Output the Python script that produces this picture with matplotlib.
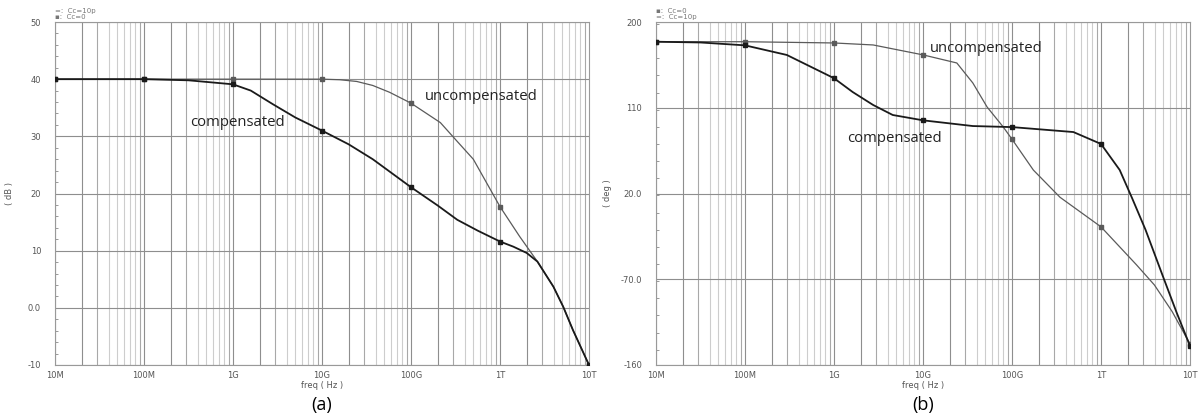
import numpy as np
import matplotlib.pyplot as plt
from matplotlib.ticker import FixedLocator, MultipleLocator, NullLocator

# log10(freq) / value pairs
mag_comp_logf = [7.0, 8.0, 8.5, 9.0, 9.2, 9.45, 9.7, 10.0, 10.3, 10.57, 11.0, 11.3, 11.52, 11.75, 12.0,
                 12.15, 12.3, 12.42, 12.6, 12.71, 12.82, 13.0]
mag_comp_db = [40.0, 40.0, 39.8, 39.1, 38.0, 35.6, 33.3, 31.0, 28.6, 26.0, 21.1, 17.9, 15.4, 13.5, 11.6,
               10.7, 9.6, 8.1, 3.7, 0.2, -3.9, -10.0]

mag_unc_logf = [7.0, 8.0, 9.0, 10.0, 10.2, 10.39, 10.57, 10.76, 11.0, 11.33, 11.52, 11.7, 12.0, 12.22,
                12.42, 12.6, 12.71, 12.82, 13.0]
mag_unc_db = [40.0, 40.0, 40.0, 40.0, 39.9, 39.6, 38.9, 37.7, 35.8, 32.4, 29.1, 26.0, 17.7, 12.5,
              8.1, 3.7, 0.2, -3.9, -10.0]

ph_comp_logf = [7.0, 7.5, 8.0, 8.47, 9.0, 9.21, 9.44, 9.66, 10.0, 10.56, 11.0, 11.69, 12.0, 12.21,
                12.35, 12.5, 12.7, 12.85, 13.0]
ph_comp_deg = [179.3, 178.5, 175.5, 165.4, 141.0, 126.5, 112.9, 102.4, 96.8, 90.8, 89.7, 84.5, 72.0, 44.7,
               15.0, -18.0, -68.0, -105.0, -140.0]

ph_unc_logf = [7.0, 8.0, 9.0, 9.44, 10.0, 10.38, 10.56, 10.72, 10.9, 11.0, 11.24, 11.54, 12.0, 12.21,
               12.4, 12.6, 12.8, 13.0]
ph_unc_deg = [179.3, 179.3, 178.0, 175.9, 165.5, 157.0, 136.0, 110.8, 90.0, 77.0, 44.6, 16.0, -15.0, -36.0,
              -55.0, -76.0, -104.0, -138.0]

xtick_labels = ['10M', '100M', '1G', '10G', '100G', '1T', '10T']
mag_ticks = [-10, 0, 10, 20, 30, 40, 50]
mag_tick_labels = ['-10', '0.0', '10', '20', '30', '40', '50']
ph_ticks = [-160, -70, 20, 110, 200]
ph_tick_labels = ['-160', '-70.0', '20.0', '110', '200']

W, H = 1204, 417
fig = plt.figure(figsize=(W / 100, H / 100), dpi=100)

text_font = ['Open Sans', 'DejaVu Sans']
grid_dark = '#8e8e8e'
grid_mid = '#a8a8a8'
grid_light = '#cdcdcd'


def decade_marks(logf):
    return [i for i, f in enumerate(logf) if float(f).is_integer()]


def setup_axes(ax, yticks, ylabels, ylim, yminor, ylabel, ylabel_x):
    freqs = 10.0 ** np.arange(7, 14)
    ax.set_xscale('log')
    ax.set_xlim(1e7, 1e13)
    ax.set_ylim(*ylim)

    # vertical grid on every 1..9 x decade
    for dec in range(7, 13):
        for k in range(1, 10):
            f = k * 10.0 ** dec
            if k in (1, 2):
                col = grid_dark
            elif k in (3, 9):
                col = grid_mid
            else:
                col = grid_light
            ax.axvline(f, color=col, lw=0.8, zorder=0)
    for y in yticks:
        ax.axhline(y, color=grid_dark, lw=0.8, zorder=0)

    ax.xaxis.set_major_locator(FixedLocator(freqs))
    ax.xaxis.set_minor_locator(NullLocator())
    ax.set_xticklabels(xtick_labels)
    ax.yaxis.set_major_locator(FixedLocator(yticks))
    ax.set_yticklabels(ylabels)
    ax.yaxis.set_minor_locator(MultipleLocator(yminor))
    ax.tick_params(axis='both', which='major', length=0, labelsize=6, colors='#555555', pad=4)
    ax.tick_params(axis='y', which='major', pad=10)
    ax.tick_params(axis='y', which='minor', length=2, direction='in', color='#888888')
    for s in ax.spines.values():
        s.set_color('#999999')
        s.set_linewidth(0.8)
    ax.set_xlabel('freq ( Hz )', fontsize=6, color='#555555', labelpad=1)
    ax.set_ylabel(ylabel, fontsize=6, color='#555555')
    ax.yaxis.set_label_coords(ylabel_x, 0.5)


# (a) magnitude
ax1 = fig.add_axes([55 / W, 1 - 365 / H, 534 / W, 343 / H])
setup_axes(ax1, mag_ticks, mag_tick_labels, (-10, 50), 2, '( dB )', (14 - 55) / 534)
ax1.plot(10.0 ** np.array(mag_unc_logf), mag_unc_db, color='#5a5a5a', lw=0.9,
         marker='s', ms=2.2, markevery=decade_marks(mag_unc_logf), zorder=3)
ax1.plot(10.0 ** np.array(mag_comp_logf), mag_comp_db, color='#1a1a1a', lw=1.3,
         marker='s', ms=2.2, markevery=decade_marks(mag_comp_logf), zorder=4)
ax1.text(10 ** 11.16, 36.3, 'uncompensated', fontsize=10.7, family=text_font, color='#222222',
         ha='left', va='baseline')
ax1.text(10 ** 8.52, 31.8, 'compensated', fontsize=10.7, family=text_font, color='#222222',
         ha='left', va='baseline')
ax1.text(0.0, 1.005, '=:  Cc=10p\n\u25aa:  Cc=0', transform=ax1.transAxes, fontsize=5,
         color='#777777', ha='left', va='bottom', linespacing=1.0)
fig.text(322 / W, 1 - 405 / H, '(a)', fontsize=13, family=text_font, ha='center', va='center')

# (b) phase
ax2 = fig.add_axes([656 / W, 1 - 365 / H, 534 / W, 343 / H])
setup_axes(ax2, ph_ticks, ph_tick_labels, (-160, 200), 18, '( deg )', (612 - 656) / 534)
ax2.plot(10.0 ** np.array(ph_unc_logf), ph_unc_deg, color='#5a5a5a', lw=0.9,
         marker='s', ms=2.2, markevery=decade_marks(ph_unc_logf), zorder=3)
ax2.plot(10.0 ** np.array(ph_comp_logf), ph_comp_deg, color='#1a1a1a', lw=1.3,
         marker='s', ms=2.2, markevery=decade_marks(ph_comp_logf), zorder=4)
ax2.text(10 ** 10.08, 168.5, 'uncompensated', fontsize=10.7, family=text_font, color='#222222',
         ha='left', va='baseline')
ax2.text(10 ** 9.15, 74, 'compensated', fontsize=10.7, family=text_font, color='#222222',
         ha='left', va='baseline')
ax2.text(0.0, 1.005, '\u25aa:  Cc=0\n=:  Cc=10p', transform=ax2.transAxes, fontsize=5,
         color='#777777', ha='left', va='bottom', linespacing=1.0)
fig.text(923 / W, 1 - 405 / H, '(b)', fontsize=13, family=text_font, ha='center', va='center')

fig.savefig('out.png', dpi=100, facecolor='white')
